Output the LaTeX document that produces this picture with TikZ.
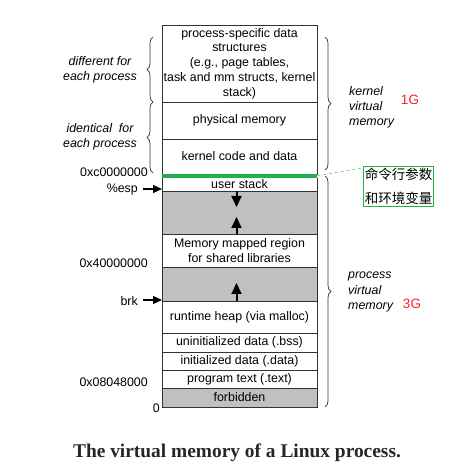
\documentclass[tikz,border=0pt]{standalone}
\usepackage{fontspec}
\setmainfont{Liberation Sans}
\newfontfamily\cjk{Noto Sans CJK SC}
\newfontfamily\capfont{Liberation Serif}
\usetikzlibrary{positioning,arrows.meta,decorations.pathreplacing}
\definecolor{memgray}{RGB}{192,192,192}
\definecolor{bandgreen}{RGB}{34,177,76}
\definecolor{sizered}{RGB}{255,32,32}
\tikzstyle{every node}=[font=\fontsize{12.4}{14.8}\selectfont]
\tikzstyle{seg}=[draw=black!80, minimum width=155pt, inner sep=0pt, outer sep=0pt, align=center]
\tikzstyle{free}=[seg, fill=memgray]
\tikzstyle{bandline}=[fill=bandgreen, minimum width=155pt, minimum height=4pt, inner sep=0pt, outer sep=0pt]
\tikzstyle{addr}=[anchor=east, inner sep=0pt]
\tikzstyle{note}=[align=center, inner sep=0pt, font=\fontsize{12.4}{14.5}\selectfont\itshape]
\tikzstyle{side}=[align=left, anchor=west, inner sep=0pt, font=\fontsize{12.4}{15.2}\selectfont\itshape]
\tikzstyle{gsize}=[text=sizered, inner sep=0pt, font=\fontsize{13.5}{16}\selectfont]
\tikzstyle{growarrow}=[line width=2pt, -{Triangle[width=10pt,length=11pt]}]
\tikzstyle{ptr}=[line width=1.3pt, -{Triangle[width=8pt,length=9pt]}]
\tikzstyle{span}=[draw=black!80, line width=0.7pt, decorate, decoration={brace, amplitude=6pt}]
\tikzstyle{cjkbox}=[draw=bandgreen, line width=0.8pt, minimum width=69pt, minimum height=40pt, inner sep=1pt, align=center, font=\cjk\fontsize{13.5}{24}\selectfont]

\begin{document}
\begin{tikzpicture}[x=1pt, y=1pt]
  \useasboundingbox (0,0) rectangle (459,467);
  \node[seg, minimum height=77pt] (pstruct) at (239.5,403.5)
    {process-specific data\\structures\\(e.g., page tables,\\task and mm structs, kernel\\stack)};
  \node[seg, minimum height=37pt, below=0pt of pstruct] (physmem) {physical memory};
  \node[seg, minimum height=35pt, below=0pt of physmem] (kcode) {kernel code and data};
  \node[bandline, below=0pt of kcode] (band) {};
  \node[seg, draw=none, minimum height=13pt, below=0pt of band] (ustack) {user stack};
  \node[free, minimum height=43pt, below=0pt of ustack] (gap1) {};
  \node[seg, minimum height=33pt, below=0pt of gap1] (mmap) {Memory mapped region\\for shared libraries};
  \node[free, minimum height=34pt, below=0pt of mmap] (gap2) {};
  \node[seg, minimum height=32pt, below=0pt of gap2] (heap) {runtime heap (via malloc)};
  \node[seg, minimum height=19pt, below=0pt of heap] (bss) {uninitialized data (.bss)};
  \node[seg, minimum height=18pt, below=0pt of bss] (idata) {initialized data (.data)};
  \node[seg, minimum height=18pt, below=0pt of idata] (ptext) {program text (.text)};
  \node[free, minimum height=19pt, below=0pt of ptext] (forb) {forbidden};
  \draw[draw=black!80] (band.south west) -- (gap1.north west) (band.south east) -- (gap1.north east);

  \draw[growarrow] ([xshift=-3pt]gap1.north) -- ++(0,-16);
  \draw[growarrow] ([xshift=-3pt]gap1.south) -- ++(0,17);
  \draw[growarrow] ([xshift=-3pt]gap2.south) -- ++(0,18);

  \node[addr] (kbase) at ([xshift=-14pt,yshift=2pt]kcode.south west) {0xc0000000};
  \node[addr] (esp) at ([xshift=-24pt,yshift=2pt]gap1.north west) {\%esp};
  \draw[ptr] ([xshift=5pt]esp.east) -- (esp.east -| gap1.west);
  \node[addr] (mbase) at ([xshift=-14pt,yshift=4pt]mmap.south west) {0x40000000};
  \node[addr] (brk) at ([xshift=-24pt]heap.north west) {brk};
  \node[coordinate] (brkend) at ([yshift=1pt]heap.north west) {};
  \draw[ptr] ([xshift=5pt]brk.east |- brkend) -- (brkend);
  \node[addr] (tbase) at ([xshift=-14pt,yshift=6pt]ptext.south west) {0x08048000};
  \node[addr] (zero) at ([xshift=-2pt,yshift=-1pt]forb.south west) {0};

  \draw[span] ([xshift=-9pt]pstruct.south west) -- ([xshift=-9pt,yshift=-12pt]pstruct.north west);
  \draw[span] ([xshift=-9pt,yshift=1pt]kcode.south west) -- ([xshift=-9pt]pstruct.south west);
  \draw[span] ([xshift=8pt,yshift=-12pt]pstruct.north east) -- ([xshift=8pt,yshift=4pt]kcode.south east);
  \draw[span] ([xshift=8pt,yshift=-2pt]band.north east) -- ([xshift=8pt]forb.south east);

  \node[note] (diff) at (100,397) {different for\\each process};
  \node[note] (same) at (100,330) {identical~ for\\each process};
  \node[side] (kvm) at (349,360) {kernel\\virtual\\memory};
  \node[gsize] (kgig) at (410,367) {1G};
  \node[side] (pvm) at (348,175) {process\\virtual\\memory};
  \node[gsize] (pgig) at (412,163) {3G};

  \node[cjkbox] (args) at (398.5,281) {命令行参数\\和环境变量};
  \draw[bandgreen, dashed, thin] (band.east) -- ([yshift=-2pt]args.north west);

  \node[font=\capfont\bfseries\fontsize{19.4}{23}\selectfont, text=black!85] (caption) at (237,14)
    {The virtual memory of a Linux process.};
\end{tikzpicture}
\end{document}
